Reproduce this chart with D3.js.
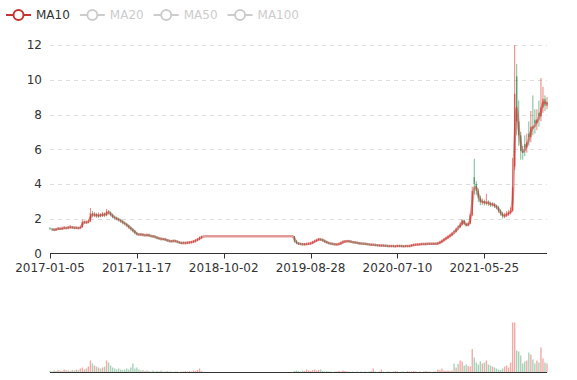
<!DOCTYPE html>
<html><head><meta charset="utf-8">
<script src="https://cdn.jsdelivr.net/npm/d3@7"></script>
<style>body{margin:0;background:#fff}svg{display:block;font-family:"DejaVu Sans",sans-serif}</style>
</head><body><svg id="c" width="577" height="380"></svg>
<script>
// ---- data (weekly candles) ----
const tickLabels = ['2017-01-05','2017-11-17','2018-10-02','2019-08-28','2020-07-10','2021-05-25'];
const tickEvery = 43;
const seriesNames = ['MA10','MA20','MA50','MA100'];
const activeSeries = ['MA10'];
const maWindow = 2; // weekly candles: 2 weeks ~ 10 trading days
const yTicks = [0,2,4,6,8,10,12];
// [open, close, low, high]
const ohlc = [
[1.45,1.42,1.34,1.52],[1.42,1.38,1.30,1.47],[1.38,1.36,1.29,1.44],[1.36,1.40,1.30,1.47],[1.40,1.44,1.35,1.52],
[1.44,1.41,1.35,1.50],[1.41,1.45,1.36,1.55],[1.45,1.48,1.40,1.58],[1.48,1.46,1.39,1.54],[1.46,1.50,1.40,1.58],
[1.50,1.52,1.44,1.64],[1.52,1.49,1.42,1.58],[1.49,1.47,1.40,1.55],[1.47,1.48,1.41,1.56],[1.48,1.46,1.40,1.54],
[1.46,1.50,1.42,1.60],[1.52,1.82,1.48,1.96],[1.82,1.78,1.70,1.90],[1.78,1.80,1.71,1.90],[1.80,1.84,1.74,1.95],
[1.86,2.30,1.82,2.62],[2.30,2.20,2.08,2.44],[2.20,2.25,2.10,2.38],[2.25,2.15,2.06,2.34],[2.15,2.22,2.06,2.36],
[2.22,2.18,2.08,2.32],[2.18,2.28,2.10,2.40],[2.28,2.20,2.10,2.36],[2.20,2.40,2.14,2.56],[2.40,2.35,2.24,2.50],
[2.35,2.22,2.14,2.42],[2.22,2.10,2.02,2.30],[2.10,2.05,1.96,2.18],[2.05,1.98,1.90,2.12],[1.98,1.92,1.84,2.06],
[1.92,1.85,1.76,2.00],[1.85,1.76,1.68,1.92],[1.76,1.70,1.62,1.84],[1.70,1.60,1.52,1.76],[1.60,1.50,1.42,1.66],
[1.50,1.40,1.32,1.56],[1.40,1.30,1.22,1.46],[1.30,1.18,1.10,1.36],[1.18,1.10,1.03,1.24],[1.10,1.08,1.02,1.17],
[1.08,1.10,1.02,1.18],[1.10,1.06,0.99,1.16],[1.06,1.04,0.98,1.13],[1.04,1.08,0.98,1.15],[1.08,1.02,0.95,1.14],
[1.02,1.00,0.93,1.08],[1.00,0.98,0.91,1.06],[0.98,0.94,0.87,1.04],[0.94,0.88,0.81,1.00],[0.88,0.86,0.79,0.94],
[0.86,0.82,0.75,0.92],[0.82,0.84,0.76,0.90],[0.84,0.78,0.71,0.90],[0.78,0.74,0.67,0.84],[0.74,0.72,0.65,0.80],
[0.72,0.70,0.63,0.78],[0.70,0.74,0.64,0.80],[0.74,0.70,0.63,0.79],[0.70,0.66,0.59,0.75],[0.66,0.62,0.55,0.71],
[0.62,0.60,0.53,0.68],[0.60,0.62,0.54,0.69],[0.62,0.60,0.53,0.68],[0.60,0.63,0.54,0.70],[0.63,0.64,0.56,0.71],
[0.64,0.66,0.58,0.73],[0.66,0.70,0.60,0.77],[0.70,0.76,0.64,0.83],[0.76,0.82,0.70,0.89],[0.82,0.90,0.76,0.97],
[0.90,0.96,0.84,1.03],
[1,1,1,1],[1,1,1,1],[1,1,1,1],[1,1,1,1],[1,1,1,1],[1,1,1,1],[1,1,1,1],[1,1,1,1],[1,1,1,1],
[1,1,1,1],[1,1,1,1],[1,1,1,1],[1,1,1,1],[1,1,1,1],[1,1,1,1],[1,1,1,1],[1,1,1,1],[1,1,1,1],
[1,1,1,1],[1,1,1,1],[1,1,1,1],[1,1,1,1],[1,1,1,1],[1,1,1,1],[1,1,1,1],[1,1,1,1],[1,1,1,1],
[1,1,1,1],[1,1,1,1],[1,1,1,1],[1,1,1,1],[1,1,1,1],[1,1,1,1],[1,1,1,1],[1,1,1,1],[1,1,1,1],
[1,1,1,1],[1,1,1,1],[1,1,1,1],[1,1,1,1],[1,1,1,1],[1,1,1,1],[1,1,1,1],[1,1,1,1],[1,1,1,1],
[1.00,0.70,0.62,1.00],[0.70,0.60,0.53,0.76],[0.60,0.56,0.49,0.66],[0.56,0.55,0.48,0.62],[0.55,0.52,0.46,0.61],
[0.52,0.54,0.46,0.60],[0.54,0.55,0.48,0.62],[0.55,0.56,0.49,0.63],[0.56,0.60,0.50,0.67],[0.60,0.66,0.54,0.73],
[0.66,0.72,0.60,0.79],[0.72,0.78,0.66,0.85],[0.78,0.82,0.72,0.90],[0.82,0.80,0.73,0.88],[0.80,0.74,0.67,0.86],
[0.74,0.68,0.61,0.80],[0.68,0.62,0.56,0.74],[0.62,0.58,0.52,0.68],[0.58,0.56,0.50,0.64],[0.56,0.54,0.48,0.62],
[0.54,0.52,0.46,0.60],[0.52,0.53,0.46,0.59],[0.53,0.56,0.47,0.62],[0.56,0.62,0.50,0.69],[0.62,0.68,0.56,0.75],
[0.68,0.70,0.62,0.77],[0.70,0.72,0.64,0.79],[0.72,0.70,0.63,0.78],[0.70,0.66,0.60,0.76],[0.66,0.64,0.58,0.72],
[0.64,0.63,0.57,0.70],[0.63,0.60,0.54,0.69],[0.60,0.58,0.52,0.66],[0.58,0.57,0.51,0.64],[0.57,0.56,0.50,0.63],
[0.56,0.55,0.49,0.62],[0.55,0.53,0.47,0.61],[0.53,0.52,0.46,0.59],[0.52,0.50,0.44,0.58],[0.49,0.50,0.44,0.57],
[0.50,0.48,0.42,0.56],[0.48,0.47,0.41,0.54],[0.47,0.46,0.40,0.53],[0.45,0.46,0.39,0.53],[0.46,0.45,0.39,0.52],
[0.45,0.44,0.38,0.51],[0.44,0.43,0.37,0.50],[0.43,0.42,0.36,0.49],[0.42,0.43,0.36,0.49],[0.43,0.42,0.36,0.49],
[0.41,0.42,0.36,0.48],[0.42,0.44,0.37,0.50],[0.44,0.43,0.37,0.50],[0.43,0.42,0.36,0.49],[0.43,0.42,0.36,0.48],
[0.42,0.43,0.36,0.49],[0.43,0.42,0.36,0.49],[0.42,0.44,0.37,0.50],[0.44,0.48,0.39,0.54],[0.48,0.50,0.42,0.56],
[0.50,0.51,0.44,0.57],[0.51,0.52,0.45,0.58],[0.52,0.53,0.46,0.59],[0.53,0.55,0.47,0.61],[0.55,0.54,0.48,0.61],
[0.54,0.56,0.48,0.62],[0.56,0.55,0.49,0.62],[0.55,0.56,0.49,0.62],[0.56,0.55,0.49,0.62],[0.55,0.57,0.49,0.63],
[0.57,0.56,0.50,0.63],[0.56,0.60,0.51,0.67],[0.60,0.66,0.54,0.73],[0.66,0.74,0.60,0.81],[0.74,0.82,0.68,0.90],
[0.82,0.90,0.76,0.98],[0.90,0.98,0.83,1.06],[0.98,1.06,0.91,1.14],[1.06,1.16,0.99,1.24],[1.30,1.26,1.10,1.36],
[1.26,1.40,1.20,1.50],[1.56,1.52,1.34,1.62],[1.52,1.66,1.46,1.78],[1.66,1.92,1.60,1.98],[1.92,1.70,1.62,1.96],
[1.70,1.62,1.54,1.76],[1.62,1.72,1.56,1.80],[1.72,2.20,1.68,2.32],[2.20,3.60,2.14,3.84],[4.40,4.00,3.40,5.45],
[4.00,3.60,3.36,4.16],[3.60,3.20,2.96,3.74],[3.20,2.95,2.78,3.34],[2.95,3.00,2.80,3.16],[3.00,2.90,2.76,3.10],
[2.90,2.95,2.78,3.44],[2.95,2.88,2.74,3.06],[2.88,2.80,2.68,2.98],[2.80,2.84,2.70,2.96],[2.84,2.72,2.62,2.92],
[2.72,2.66,2.54,2.82],[2.66,2.45,2.34,2.74],[2.45,2.30,2.18,2.54],[2.30,2.15,2.02,2.40],[2.15,2.20,2.04,2.34],
[2.20,2.28,2.10,2.44],[2.28,2.35,2.16,2.50],[2.35,2.45,2.24,2.64],[2.45,3.80,2.40,5.50],[5.00,9.20,4.80,12.00],
[10.20,7.60,6.80,10.90],[7.60,6.80,6.20,8.80],[6.80,5.90,5.40,7.00],[5.90,5.80,5.40,6.20],[6.30,6.10,5.60,6.80],
[6.10,6.40,5.80,6.90],[6.90,6.70,6.20,7.60],[6.70,7.30,6.40,8.20],[7.30,7.20,6.80,9.10],[7.70,7.50,6.90,8.30],
[7.50,7.70,7.10,8.30],[8.10,7.90,7.30,8.80],[7.90,8.40,7.60,10.10],[8.40,8.90,8.10,9.60],[8.90,8.50,8.20,9.10],
[8.50,8.70,8.30,9.00]
];
const volumes = [
3,2,4,3,5,4,3,6,5,4,3,5,4,6,5,
8,10,6,8,12,
24,18,14,12,10,8,10,12,24,20,
14,10,8,6,8,6,5,6,8,6,
10,18,8,10,6,4,5,3,4,3,
2,4,2,3,2,4,2,2,3,2,
2,1,2,2,1,2,2,3,2,3,
2,4,3,5,8,3,
0,0,0,0,0,0,0,0,0,0,0,0,0,0,0,0,0,0,0,0,0,0,0,0,0,0,0,0,0,0,0,0,0,0,0,0,0,0,0,0,0,0,0,0,0,
3,4,3,2,4,3,6,4,3,5,
6,4,5,6,3,2,3,2,2,1,
2,2,3,2,4,3,2,2,1,2,
1,2,1,2,1,2,1,2,3,8,
2,1,2,6,2,1,2,2,1,2,
3,2,1,2,2,1,3,2,2,3,
2,1,2,1,2,3,2,2,1,2,
2,6,5,8,4,3,4,3,4,18,
10,17,24,22,14,16,13,12,47,30,
20,16,22,18,20,24,16,14,12,10,
8,6,5,8,12,14,10,20,100,100,
44,42,34,18,22,24,40,36,26,18,
24,20,50,28,20,18
];

// ---- styles ----
const upColor = '#e0453a', downColor = '#3d9a63', maColor = '#c23531';
const gLeft = 50, gRight = 547, gTop = 45, gBottom = 253.5, vTop = 322.5, vBottom = 372.5;

const svg = d3.select('#c');
const x = d3.scaleLinear().domain([0, ohlc.length - 1]).range([gLeft, gRight]);
const y = d3.scaleLinear().domain([0, 12]).range([gBottom, gTop]);
const yv = d3.scaleLinear().domain([0, d3.max(volumes)]).range([vBottom, vTop]);
const isUp = d => d[1] >= d[0];

// grid lines
svg.append('g').selectAll('line').data(yTicks.filter(v => v > 0)).join('line')
  .attr('x1', gLeft).attr('x2', gRight)
  .attr('y1', d => Math.round(y(d)) + 0.5).attr('y2', d => Math.round(y(d)) + 0.5)
  .attr('stroke', '#ddd').attr('stroke-dasharray', '4,4');

// y labels
svg.append('g').selectAll('text').data(yTicks).join('text')
  .attr('x', gLeft - 8).attr('y', d => y(d) + 4.3)
  .attr('text-anchor', 'end').attr('font-size', 12).attr('fill', '#333')
  .text(d => d);

// x axis
const tickIdx = tickLabels.map((_, k) => k * tickEvery);
svg.append('line').attr('x1', gLeft).attr('x2', gRight).attr('y1', gBottom).attr('y2', gBottom)
  .attr('stroke', '#333');
svg.append('g').selectAll('line').data(tickIdx).join('line')
  .attr('x1', d => Math.round(x(d)) + 0.5).attr('x2', d => Math.round(x(d)) + 0.5)
  .attr('y1', gBottom).attr('y2', gBottom + 5).attr('stroke', '#333');
svg.append('g').selectAll('text').data(tickLabels).join('text')
  .attr('x', (d, k) => x(tickIdx[k])).attr('y', gBottom + 18)
  .attr('text-anchor', 'middle').attr('font-size', 12).attr('fill', '#333')
  .text(d => d);

// candles (rows with no price movement draw nothing)
const cw = 1.4;
const moving = ohlc.map((d, i) => ({d, i})).filter(o => o.d[3] > o.d[2]);
const cg = svg.append('g');
cg.selectAll('line').data(moving).join('line')
  .attr('x1', o => x(o.i)).attr('x2', o => x(o.i))
  .attr('y1', o => y(o.d[3])).attr('y2', o => y(o.d[2]))
  .attr('stroke', o => isUp(o.d) ? upColor : downColor)
  .attr('stroke-width', 0.9).attr('stroke-opacity', 0.75);
cg.selectAll('rect').data(moving).join('rect')
  .attr('x', o => x(o.i) - cw / 2).attr('width', cw)
  .attr('y', o => y(Math.max(o.d[0], o.d[1])))
  .attr('height', o => Math.max(0.6, Math.abs(y(o.d[0]) - y(o.d[1]))))
  .attr('fill', o => isUp(o.d) ? upColor : downColor).attr('fill-opacity', 0.8);

// MA line
const closes = ohlc.map(d => d[1]);
const ma = closes.map((c, i) => i < maWindow - 1 ? null : d3.mean(closes.slice(i - maWindow + 1, i + 1)));
svg.append('path')
  .attr('d', d3.line().defined(d => d != null).x((d, i) => x(i)).y(d => y(d)).curve(d3.curveMonotoneX)(ma))
  .attr('fill', 'none').attr('stroke', maColor).attr('stroke-width', 2.5).attr('stroke-opacity', 0.5);

// volume
svg.append('g').selectAll('rect').data(volumes).join('rect')
  .attr('x', (d, i) => x(i) - cw / 2).attr('width', cw)
  .attr('y', d => yv(d)).attr('height', d => vBottom - yv(d))
  .attr('fill', (d, i) => isUp(ohlc[i]) ? upColor : downColor).attr('fill-opacity', 0.45);
svg.append('line').attr('x1', gLeft).attr('x2', gRight).attr('y1', vBottom).attr('y2', vBottom)
  .attr('stroke', '#333');

// legend
const lg = svg.append('g');
let lx = 6;
seriesNames.forEach(name => {
  const on = activeSeries.includes(name);
  const col = on ? maColor : '#ccc';
  const g = lg.append('g');
  g.append('line').attr('x1', lx).attr('x2', lx + 25).attr('y1', 15).attr('y2', 15)
    .attr('stroke', col).attr('stroke-width', 2);
  g.append('circle').attr('cx', lx + 12.5).attr('cy', 15).attr('r', 5)
    .attr('fill', '#fff').attr('stroke', col).attr('stroke-width', 2);
  const t = g.append('text').attr('x', lx + 30).attr('y', 19.3).attr('font-size', 12)
    .attr('fill', on ? '#333' : '#ccc').text(name);
  lx += 30 + t.node().getComputedTextLength() + 10;
});
</script></body></html>
